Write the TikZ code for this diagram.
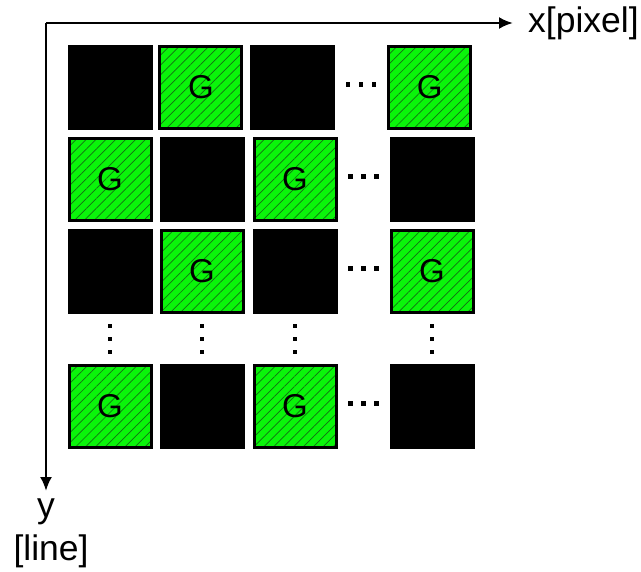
\documentclass[tikz,border=0pt]{standalone}
\usepackage{fontspec}
\setmainfont{Liberation Sans}
\usetikzlibrary{positioning,calc,arrows.meta,patterns.meta}

\definecolor{pixgreen}{RGB}{10,245,10}
\definecolor{hatchgreen}{RGB}{20,110,20}

\tikzset{
  pix/.style={draw=black, line width=3pt, minimum size=82pt, inner sep=0pt,
    font=\fontsize{33}{33}\selectfont},
  blk/.style={pix, fill=black},
  grn/.style={pix, preaction={fill=pixgreen},
    pattern={Lines[angle=45,distance=7pt,line width=0.7pt]}, pattern color=hatchgreen},
  dot/.style={fill=black, minimum size=4.5pt, inner sep=0pt},
  axis/.style={line width=2.5pt, -{Latex[length=14pt,width=12pt]}},
  axlabel/.style={inner sep=0pt, font=\fontsize{35.5}{40}\selectfont}
}

\begin{document}
\begin{tikzpicture}[x=1pt, y=-1pt, node distance=7pt]
  \useasboundingbox (0,0) rectangle (641,572);

  % axes
  \coordinate (O) at (46,23);
  \node[axlabel, anchor=base west] (xl) at (528,33) {x[pixel]};
  \node[axlabel, anchor=base] (yl) at (46,518) {y};
  \node[axlabel, anchor=base] (yu) at (51,561) {[line]};
  \draw[axis, shorten >=15pt] (O) -- (O -| xl.west);
  \draw[axis, shorten >=8pt] (O) -- (yl.north);

  % pixel array
  \node[blk] (p11) at (110,87.5) {};
  \node[grn, right=of p11] (p12) {G};
  \node[blk, right=8pt of p12] (p13) {};
  \node[grn, right=52pt of p13] (p14) {G};

  \node[grn, below=of p11] (p21) {G};
  \node[blk, right=of p21] (p22) {};
  \node[grn, right=8pt of p22] (p23) {G};
  \node[blk, right=52pt of p23] (p24) {};

  \node[blk, below=of p21] (p31) {};
  \node[grn, right=of p31] (p32) {G};
  \node[blk, right=8pt of p32] (p33) {};
  \node[grn, right=52pt of p33] (p34) {G};

  \node[grn, below=50pt of p31] (p51) {G};
  \node[blk, right=of p51] (p52) {};
  \node[grn, right=8pt of p52] (p53) {G};
  \node[blk, right=52pt of p53] (p54) {};

  % dots between the columns and rows
  \foreach \r in {1,2,3,5} {
    \coordinate (h\r) at ($(p\r3.east)!.5!(p\r4.west)$);
    \foreach \d in {-13,0,13}
      \node[dot] at ([xshift=\d pt, yshift=3pt]h\r) {};
  }
  \foreach \c in {1,...,4} {
    \coordinate (v\c) at ($(p3\c.south)!.5!(p5\c.north)$);
    \foreach \d in {-13,0,13}
      \node[dot] at ([yshift=\d pt]v\c) {};
  }
\end{tikzpicture}
\end{document}
